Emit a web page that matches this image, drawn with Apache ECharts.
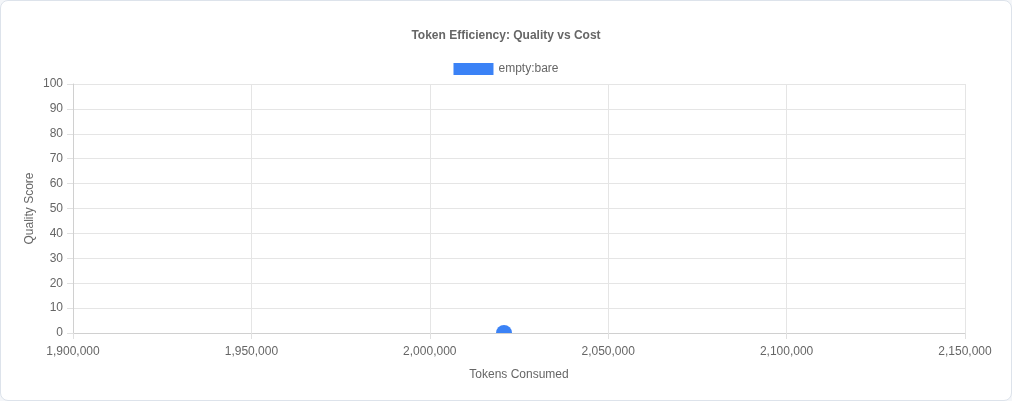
<!DOCTYPE html>
<html>
<head>
<meta charset="utf-8">
<script src="https://cdn.jsdelivr.net/npm/echarts@6/dist/echarts.min.js"></script>
<style>
html,body{margin:0;padding:0;background:#f4f6f9;}
#wrap{position:absolute;left:0;top:0;width:1012px;height:401px;box-sizing:border-box;border:1px solid #dde3eb;border-radius:8px;background:#fff;overflow:hidden;}
#chart{position:absolute;left:-1px;top:-1px;width:1012px;height:401px;}
</style>
</head>
<body>
<div id="wrap"><div id="chart"></div></div>
<script>
const seriesName = 'empty:bare';
const tokens = [2020800];
const quality = [0];
const xMin = 1900000, xMax = 2150000, xStep = 50000;
const yMin = 0, yMax = 100, yStep = 10;

const chart = echarts.init(document.getElementById('chart'));
const font = 'Helvetica, Arial, "Liberation Sans", sans-serif';
const blue = '#3b82f6';
chart.setOption({
  animation: false,
  textStyle: {fontFamily: font},
  title: {
    text: 'Token Efficiency: Quality vs Cost',
    left: 'center', top: 25,
    textStyle: {fontSize: 12, fontWeight: 'bold', color: '#666', fontFamily: font}
  },
  legend: {
    top: 58, left: 'center',
    icon: 'rect', itemWidth: 40, itemHeight: 12, itemGap: 10,
    textStyle: {fontSize: 12, color: '#666', fontFamily: font},
    data: [{name: seriesName, itemStyle: {color: blue}}]
  },
  grid: {left: 73, right: 47, top: 84, bottom: 68, containLabel: false},
  xAxis: {
    type: 'value', min: xMin, max: xMax, interval: xStep,
    name: 'Tokens Consumed', nameLocation: 'middle', nameGap: 36,
    nameMoveOverlap: false,
    nameTextStyle: {fontSize: 12, color: '#666', fontFamily: font},
    axisLine: {show: true, lineStyle: {color: '#d0d0d0'}},
    axisTick: {show: true, length: 6, lineStyle: {color: '#e0e0e0'}},
    splitLine: {show: true, lineStyle: {color: '#e5e5e5'}},
    axisLabel: {color: '#666', fontSize: 12, margin: 13, fontFamily: font,
      formatter: v => v.toLocaleString('en-US')}
  },
  yAxis: {
    type: 'value', min: yMin, max: yMax, interval: yStep,
    name: 'Quality Score', nameLocation: 'middle', nameGap: 37, nameRotate: 90,
    nameMoveOverlap: false,
    nameTextStyle: {fontSize: 12, color: '#666', fontFamily: font},
    axisLine: {show: true, lineStyle: {color: '#d0d0d0'}},
    axisTick: {show: true, length: 6, lineStyle: {color: '#e0e0e0'}},
    splitLine: {show: true, lineStyle: {color: '#e5e5e5'}},
    axisLabel: {color: '#666', fontSize: 12, margin: 10, fontFamily: font}
  },
  series: [{
    name: seriesName,
    type: 'scatter',
    data: tokens.map((t, i) => [t, quality[i]]),
    symbol: 'path://M0,10 A10,10 0 0 1 20,10 Z',
    symbolSize: [16, 8],
    symbolOffset: [0, '-50%'],
    itemStyle: {color: blue, opacity: 1},
    z: 3
  }]
});
</script>
</body>
</html>
